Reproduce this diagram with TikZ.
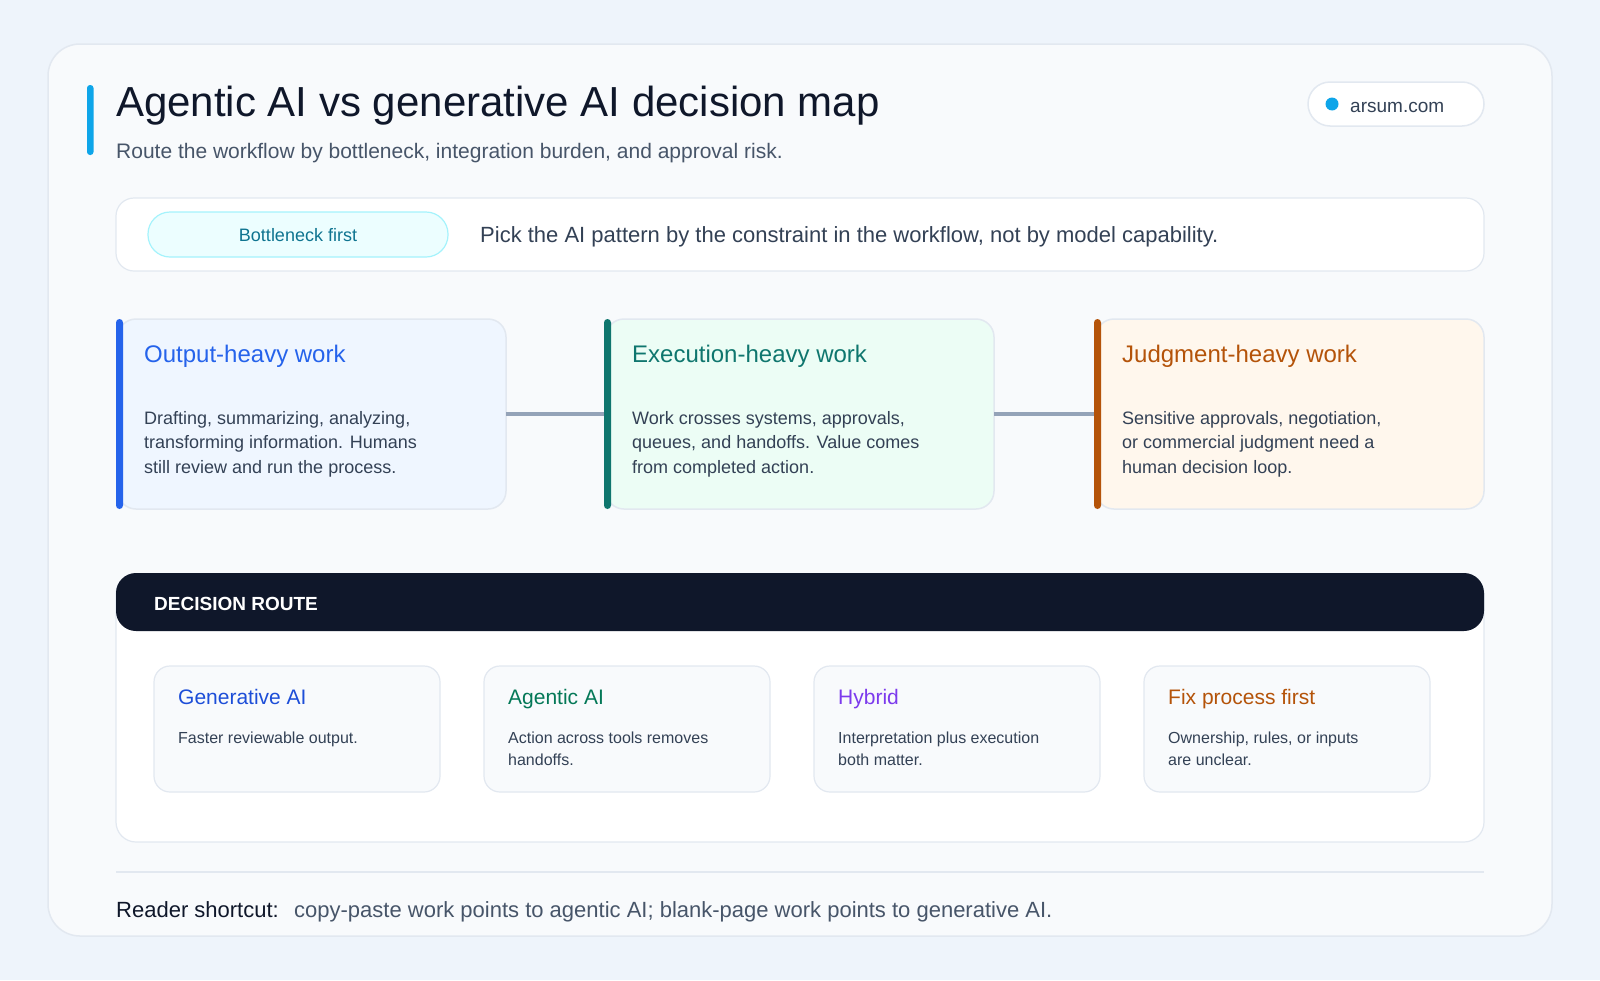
\documentclass[tikz,border=0pt]{standalone}
\usepackage{fontspec}
\setmainfont{Liberation Sans}
\definecolor{pagebg}{HTML}{EEF4FB}
\definecolor{cardbg}{HTML}{F8FAFC}
\definecolor{cborder}{HTML}{E2E8F0}
\definecolor{ink}{HTML}{0F172A}
\definecolor{subink}{HTML}{475569}
\definecolor{bodyink}{HTML}{334155}
\definecolor{sky}{HTML}{0EA5E9}
\definecolor{pillbg}{HTML}{ECFEFF}
\definecolor{pillbd}{HTML}{A5F3FC}
\definecolor{pilltx}{HTML}{0E7490}
\definecolor{bluebg}{HTML}{EFF6FF}
\definecolor{blueac}{HTML}{2563EB}
\definecolor{greenbg}{HTML}{ECFDF5}
\definecolor{greenac}{HTML}{0F766E}
\definecolor{orangebg}{HTML}{FFF7ED}
\definecolor{orangeac}{HTML}{B45309}
\definecolor{linkc}{HTML}{94A3B8}
\definecolor{gblue}{HTML}{1D4ED8}
\definecolor{ggreen}{HTML}{047857}
\definecolor{gpurple}{HTML}{7C3AED}
\begin{document}
\begin{tikzpicture}[x=1pt,y=-1pt,
  box/.style={anchor=north west,inner sep=0pt,outer sep=0pt},
  workcard/.style={box,draw=cborder,line width=1.5pt,rounded corners=18pt,minimum width=388pt,minimum height=190pt},
  accent/.style={box,rounded corners=3.5pt,minimum width=7pt,minimum height=190pt},
  cardtitle/.style={anchor=base west,inner sep=0pt,font=\fontsize{24}{28}\selectfont},
  cardbody/.style={anchor=base west,inner sep=0pt,align=left,text=bodyink,font=\fontsize{18}{24.5}\selectfont},
  routecard/.style={box,draw=cborder,line width=1.2pt,fill=cardbg,rounded corners=16pt,minimum width=286pt,minimum height=126pt},
  routetitle/.style={anchor=base west,inner sep=0pt,font=\fontsize{21}{25}\selectfont},
  routebody/.style={anchor=base west,inner sep=0pt,align=left,text=bodyink,font=\fontsize{16}{22.5}\selectfont},
  link/.style={draw=linkc,line width=3.5pt}
]
\useasboundingbox (0,0) rectangle (1600,980);
\fill[pagebg] (0,0) rectangle (1600,980);
% outer card
\node[box,draw=cborder,line width=1.5pt,fill=cardbg,rounded corners=32pt,minimum width=1504pt,minimum height=892pt] (outer) at (48,44) {};
% header
\node[box,fill=sky,rounded corners=3pt,minimum width=6.5pt,minimum height=70pt] (hbar) at (87,85) {};
\node[anchor=base west,inner sep=0pt,text=ink,font=\fontsize{42}{48}\selectfont] (title) at (116,116) {Agentic AI vs generative AI decision map};
\node[anchor=base west,inner sep=0pt,text=subink,font=\fontsize{21}{24}\selectfont] (subtitle) at (116,158) {Route the workflow by bottleneck, integration burden, and approval risk.};
% site pill
\node[box,draw=cborder,line width=1.5pt,fill=white,rounded corners=22pt,minimum width=176pt,minimum height=44pt] (site) at (1308,82) {};
\node[circle,fill=sky,inner sep=0pt,minimum size=13pt] (sitedot) at (1332,104) {};
\node[anchor=base west,inner sep=0pt,text=bodyink,font=\fontsize{19}{22}\selectfont] (sitetext) at (1350,112) {arsum.com};
% bottleneck strip
\node[box,draw=cborder,line width=1.2pt,fill=white,rounded corners=18pt,minimum width=1368pt,minimum height=73pt] (strip) at (116,198) {};
\node[box,draw=pillbd,line width=1.2pt,fill=pillbg,rounded corners=22pt,minimum width=300pt,minimum height=45pt] (pill) at (148,212) {};
\node[inner sep=0pt,text=pilltx,font=\fontsize{18}{20}\selectfont] (pilltext) at ([yshift=-1pt]pill.center) {Bottleneck first};
\node[anchor=west,inner sep=0pt,text=bodyink,font=\fontsize{22}{25}\selectfont] (stripnote) at (480,237) {Pick the AI pattern by the constraint in the workflow, not by model capability.};
% work cards
\node[workcard,fill=bluebg] (c1) at (118,319) {};
\node[accent,fill=blueac] (a1) at (116,319) {};
\node[workcard,fill=greenbg] (c2) at (606,319) {};
\node[accent,fill=greenac] (a2) at (604,319) {};
\node[workcard,fill=orangebg] (c3) at (1096,319) {};
\node[accent,fill=orangeac] (a3) at (1094,319) {};
\draw[link] (c1.east) -- (a2.west);
\draw[link] (c2.east) -- (a3.west);
\node[cardtitle,text=blueac] (t1) at (144,362) {Output-heavy work};
\node[cardbody] (b1) at (144,473) {Drafting, summarizing, analyzing,\\transforming information. Humans\\still review and run the process.};
\node[cardtitle,text=greenac] (t2) at (632,362) {Execution-heavy work};
\node[cardbody] (b2) at (632,473) {Work crosses systems, approvals,\\queues, and handoffs. Value comes\\from completed action.};
\node[cardtitle,text=orangeac] (t3) at (1122,362) {Judgment-heavy work};
\node[cardbody] (b3) at (1122,473) {Sensitive approvals, negotiation,\\or commercial judgment need a\\human decision loop.};
% decision route panel
\node[box,draw=cborder,line width=1.2pt,fill=white,rounded corners=20pt,minimum width=1368pt,minimum height=268pt] (panel) at (116,574) {};
\node[box,fill=ink,rounded corners=20pt,minimum width=1368pt,minimum height=58pt] (phead) at (116,573) {};
\node[anchor=west,inner sep=0pt,text=white,font=\fontsize{19}{22}\selectfont\bfseries] (pheadtext) at (154,604) {DECISION ROUTE};
\node[routecard] (r1) at (154,666) {};
\node[routecard] (r2) at (484,666) {};
\node[routecard] (r3) at (814,666) {};
\node[routecard] (r4) at (1144,666) {};
\node[routetitle,text=gblue] (rt1) at (178,704) {Generative AI};
\node[routebody] (rb1) at (178,743) {Faster reviewable output.};
\node[routetitle,text=ggreen] (rt2) at (508,704) {Agentic AI};
\node[routebody] (rb2) at (508,765.5) {Action across tools removes\\handoffs.};
\node[routetitle,text=gpurple] (rt3) at (838,704) {Hybrid};
\node[routebody] (rb3) at (838,765.5) {Interpretation plus execution\\both matter.};
\node[routetitle,text=orangeac] (rt4) at (1168,704) {Fix process first};
\node[routebody] (rb4) at (1168,765.5) {Ownership, rules, or inputs\\are unclear.};
% footer
\coordinate (divL) at (116,872);
\coordinate (divR) at (1484,872);
\draw[cborder,line width=1.5pt] (divL) -- (divR);
\node[anchor=base west,inner sep=0pt,text=ink,font=\fontsize{22}{24}\selectfont] (readerlbl) at (116,917) {Reader shortcut:};
\node[anchor=base west,inner sep=0pt,text=subink,font=\fontsize{22}{24}\selectfont] (readertext) at (294,917) {copy-paste work points to agentic AI; blank-page work points to generative AI.};
\end{tikzpicture}
\end{document}
